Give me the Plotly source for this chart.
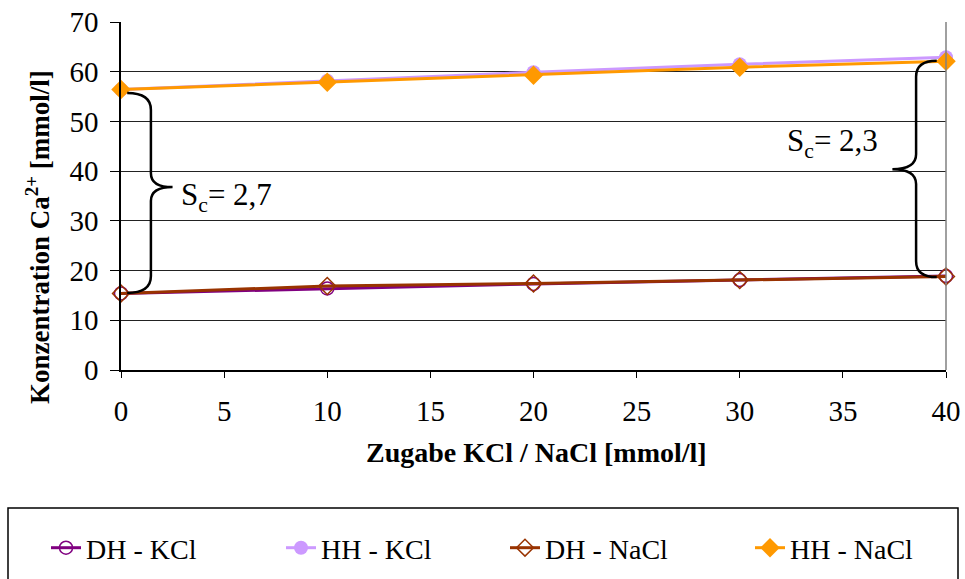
import plotly.graph_objects as go

x_vals = [0, 10, 20, 30, 40]
dh_kcl = [15.4, 16.4, 17.3, 18.1, 18.9]
hh_kcl = [56.4, 58.2, 59.9, 61.5, 62.9]
dh_nacl = [15.4, 16.9, 17.4, 18.1, 18.8]
hh_nacl = [56.4, 57.9, 59.3, 60.9, 62.1]
names = ["DH - KCl", "HH - KCl", "DH - NaCl", "HH - NaCl"]
y_ticks = [0, 10, 20, 30, 40, 50, 60, 70]
x_ticks = [0, 5, 10, 15, 20, 25, 30, 35, 40]

FONT = "Liberation Serif, Times New Roman, serif"
W, H = 965, 579
L, R, T, B = 121, 19, 22, 209
PW, PH = W - L - R, H - T - B

legend_ids = ["legend", "legend2", "legend3", "legend4"]
legend_left_px = [46, 281, 505, 750]

fig = go.Figure()
styles = [
    dict(color="#800080", symbol="circle-open", size=13, lw=3, mlw=1.5),
    dict(color="#CC99FF", symbol="circle", size=14, lw=3, mlw=0),
    dict(color="#993300", symbol="diamond-open", size=13, lw=3, mlw=1.5),
    dict(color="#FF9900", symbol="diamond", size=15, lw=3, mlw=0),
]
for name, ys, st, lg in zip(names, [dh_kcl, hh_kcl, dh_nacl, hh_nacl], styles, legend_ids):
    fig.add_trace(go.Scatter(
        x=x_vals, y=ys, name=name, mode="lines+markers",
        line=dict(color=st["color"], width=st["lw"]),
        marker=dict(color=st["color"], symbol=st["symbol"], size=st["size"],
                    line=dict(color=st["color"], width=st["mlw"])),
        cliponaxis=False, legend=lg,
    ))


def brace(xs, xsp, xt, yt, ym, yb, r, rm):
    return (f"M {xs},{yt} Q {xsp},{yt} {xsp},{yt - r} "
            f"L {xsp},{ym + rm} Q {xsp},{ym} {xt},{ym} "
            f"Q {xsp},{ym} {xsp},{ym - rm} "
            f"L {xsp},{yb + r} Q {xsp},{yb} {xs},{yb}")


shapes = [
    dict(type="path", xref="x", yref="y",
         path=brace(0.3, 1.45, 2.5, 55.7, 36.8, 15.5, 3.4, 2.8),
         line=dict(color="black", width=2.5)),
    dict(type="path", xref="x", yref="y",
         path=brace(39.55, 38.55, 37.4, 62.2, 40.4, 18.7, 3.2, 3.0),
         line=dict(color="black", width=2.5)),
    # legend frame
    dict(type="rect", xref="paper", yref="paper",
         x0=(8 - L) / PW, x1=(958 - L) / PW,
         y0=(H - B - 508) / PH, y1=(H - B - 600) / PH,
         line=dict(color="black", width=1.5), fillcolor="rgba(0,0,0,0)"),
    # right plot border
    dict(type="line", xref="paper", yref="paper", x0=1, x1=1, y0=0, y1=1,
         line=dict(color="#808080", width=1.5)),
]

annotations = [
    dict(text="S<sub>c</sub>= 2,7", x=5.1, y=34.8, xref="x", yref="y",
         showarrow=False, font=dict(family=FONT, size=31, color="black"),
         xanchor="center", yanchor="middle"),
    dict(text="S<sub>c</sub>= 2,3", x=34.5, y=45.7, xref="x", yref="y",
         showarrow=False, font=dict(family=FONT, size=31, color="black"),
         xanchor="center", yanchor="middle"),
    dict(text="<b>Konzentration Ca<sup>2+</sup> [mmol/l]</b>", textangle=-90,
         x=(38 - L) / PW, y=(H - B - 237) / PH,
         xref="paper", yref="paper", showarrow=False,
         font=dict(family=FONT, size=27, color="black"),
         xanchor="center", yanchor="middle"),
    dict(text="<b>Zugabe KCl / NaCl [mmol/l]</b>",
         x=(536 - L) / PW, y=(H - B - 452) / PH,
         xref="paper", yref="paper", showarrow=False,
         font=dict(family=FONT, size=28, color="black"),
         xanchor="center", yanchor="middle"),
]

legend_common = dict(orientation="h", xanchor="left",
                     y=(H - B - 548) / PH, yanchor="middle",
                     font=dict(family=FONT, size=28, color="black"),
                     bgcolor="rgba(0,0,0,0)", borderwidth=0)
legend_layouts = {lg: dict(legend_common, x=(px - L) / PW)
                  for lg, px in zip(legend_ids, legend_left_px)}

fig.update_layout(
    width=W, height=H,
    margin=dict(l=L, r=R, t=T, b=B, autoexpand=False),
    paper_bgcolor="white", plot_bgcolor="white",
    font=dict(family=FONT, size=28, color="black"),
    showlegend=True,
    xaxis=dict(range=[0, 40], tickvals=x_ticks, showgrid=False,
               showline=True, linecolor="black", linewidth=1.5, mirror=False,
               ticks="outside", ticklen=6, tickcolor="black",
               ticklabelstandoff=8,
               tickfont=dict(family=FONT, size=29, color="black"), zeroline=False),
    yaxis=dict(range=[0, 70], tickvals=y_ticks, showgrid=True,
               gridcolor="#222222", gridwidth=1,
               showline=True, linecolor="black", linewidth=1.5, mirror=False,
               ticks="outside", ticklen=9, tickcolor="black",
               ticklabelstandoff=6,
               tickfont=dict(family=FONT, size=29, color="black"), zeroline=False),
    shapes=shapes,
    annotations=annotations,
    **legend_layouts,
)

fig.write_html("out.html")
